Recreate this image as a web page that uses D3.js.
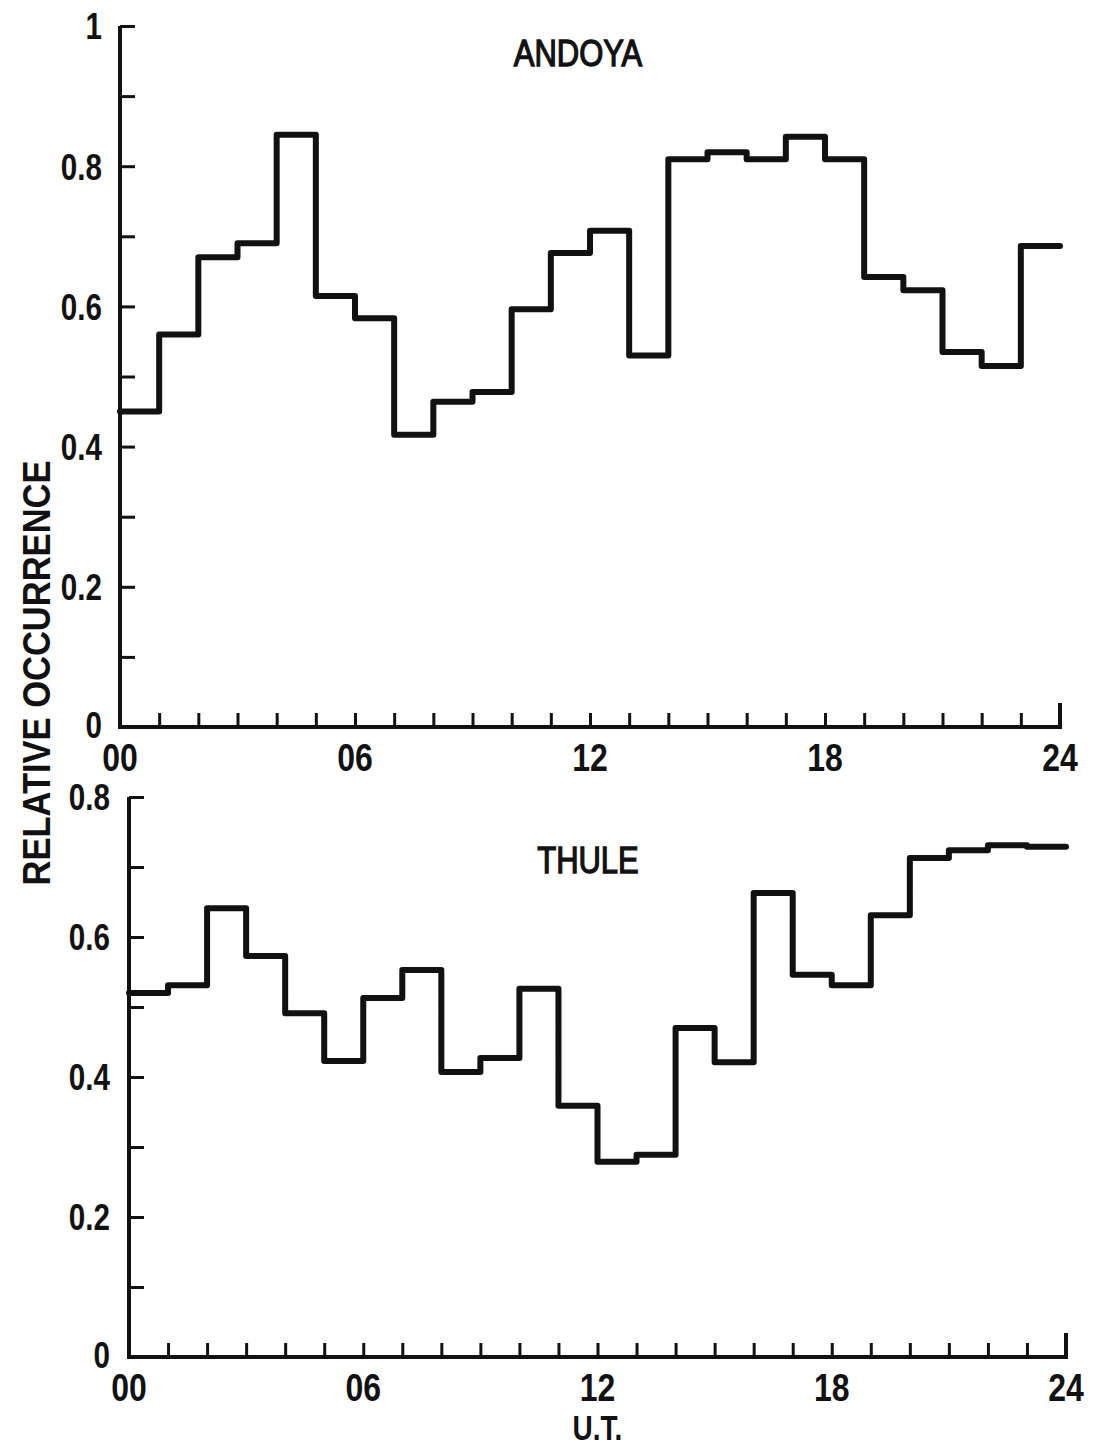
<!DOCTYPE html>
<html>
<head>
<meta charset="utf-8">
<script src="https://cdn.jsdelivr.net/npm/d3@7"></script>
<style>
  body { margin: 0; background: #fff; }
  text { font-family: "Liberation Sans", Arial, sans-serif; fill: #111; }
  .tick line { stroke: #111; stroke-width: 3; }
</style>
</head>
<body>
<div id="chart"></div>
<script>
'use strict';

// hourly relative occurrence, bins 00-01 ... 23-24 UT
const hours = d3.range(24);
const andoyaValues = [
  0.45, 0.56, 0.67, 0.69, 0.845, 0.615, 0.583, 0.417, 0.464, 0.478, 0.596, 0.676,
  0.708, 0.53, 0.81, 0.82, 0.81, 0.842, 0.81, 0.642, 0.623, 0.535, 0.515, 0.686];
const thuleValues = [
  0.52, 0.531, 0.641, 0.573, 0.491, 0.423, 0.513, 0.553, 0.407, 0.427, 0.526, 0.359,
  0.279, 0.289, 0.47, 0.421, 0.663, 0.546, 0.531, 0.631, 0.713, 0.724, 0.731, 0.729];
const xTickLabels = ['00', '06', '12', '18', '24'];
const xLabelHours = [0, 6, 12, 18, 24];
const andoyaYLabels = [0, 0.2, 0.4, 0.6, 0.8, 1];
const thuleYLabels = [0, 0.2, 0.4, 0.6, 0.8];

const svg = d3.select('#chart').append('svg')
  .attr('width', 1094)
  .attr('height', 1449);

function squeeze(sel, k) {
  sel.each(function() {
    const w = this.getComputedTextLength();
    d3.select(this).attr('textLength', w * k).attr('lengthAdjust', 'spacingAndGlyphs');
  });
}

function yFormat(v) {
  if (v === 0) return '0';
  if (v === 1) return '1';
  return v.toFixed(1);
}

function drawPanel(cfg) {
  const x = d3.scaleLinear().domain([0, 24]).range(cfg.xRange);
  const y = d3.scaleLinear().domain([0, cfg.yMax]).range(cfg.yRange);
  const g = svg.append('g');

  // inward ticks
  const yAxis = d3.axisRight(y)
    .tickValues(d3.range(1, Math.round(cfg.yMax * 10) + 1).map(d => d / 10))
    .tickSize(15)
    .tickSizeOuter(0)
    .tickFormat('');
  g.append('g')
    .attr('transform', 'translate(' + x(0) + ',0)')
    .call(yAxis)
    .select('.domain').remove();

  const xAxis = d3.axisTop(x)
    .tickValues(d3.range(1, 24))
    .tickSize(14)
    .tickSizeOuter(0)
    .tickFormat('');
  g.append('g')
    .attr('transform', 'translate(0,' + y(0) + ')')
    .call(xAxis)
    .select('.domain').remove();

  const frame = d3.path();
  frame.moveTo(x(0), y(cfg.yMax));
  frame.lineTo(x(0), y(0));
  frame.lineTo(x(24), y(0));
  frame.lineTo(x(24), y(0) - 24);
  g.append('path')
    .attr('d', frame.toString())
    .attr('fill', 'none')
    .attr('stroke', '#111')
    .attr('stroke-width', 4);

  // y labels
  g.selectAll('.ylab')
    .data(cfg.yLabels)
    .enter().append('text')
    .attr('class', 'ylab')
    .attr('x', x(0) - cfg.yLabelGap)
    .attr('y', d => y(d))
    .attr('dy', d => d === 0 ? '0.3em' : '0.36em')
    .attr('text-anchor', 'end')
    .style('font-size', '37px')
    .style('font-weight', 'bold')
    .text(yFormat)
    .call(squeeze, 0.8);

  // x labels
  g.selectAll('.xlab')
    .data(xLabelHours)
    .enter().append('text')
    .attr('class', 'xlab')
    .attr('x', d => x(d))
    .attr('y', y(0) + 44)
    .attr('text-anchor', 'middle')
    .style('font-size', '39px')
    .style('font-weight', 'bold')
    .text((d, i) => xTickLabels[i])
    .call(squeeze, 0.82);

  // station name
  g.append('text')
    .attr('x', cfg.titleX)
    .attr('y', cfg.titleY)
    .attr('text-anchor', 'middle')
    .style('font-size', '36px')
    .style('stroke', '#111')
    .style('stroke-width', 1.3)
    .text(cfg.name)
    .call(squeeze, 0.86);

  const points = hours.map(h => [h, cfg.values[h]]);
  points.push([24, cfg.values[23]]);

  const line = d3.line()
    .x(d => x(d[0]))
    .y(d => y(d[1]))
    .curve(d3.curveStepAfter);

  g.append('path')
    .datum(points)
    .attr('d', line)
    .attr('fill', 'none')
    .attr('stroke', '#111')
    .attr('stroke-width', 6)
    .attr('stroke-linejoin', 'round')
    .attr('stroke-linecap', 'round');

  return x;
}

drawPanel({
  name: 'ANDOYA', values: andoyaValues, yMax: 1, yLabels: andoyaYLabels,
  xRange: [120, 1060], yRange: [727, 26], yLabelGap: 18, titleX: 578, titleY: 66
});

const xBottom = drawPanel({
  name: 'THULE', values: thuleValues, yMax: 0.8, yLabels: thuleYLabels,
  xRange: [129, 1066], yRange: [1357, 797], yLabelGap: 19, titleX: 588, titleY: 873
});

svg.append('text')
  .attr('x', xBottom(12))
  .attr('y', 1440)
  .attr('text-anchor', 'middle')
  .style('font-size', '35px')
  .style('font-weight', 'bold')
  .text('U.T.')
  .call(squeeze, 0.8);

svg.append('text')
  .attr('transform', 'translate(50,673) rotate(-90)')
  .attr('text-anchor', 'middle')
  .style('font-size', '38px')
  .style('font-weight', 'bold')
  .text('RELATIVE OCCURRENCE')
  .attr('textLength', 425)
  .attr('lengthAdjust', 'spacingAndGlyphs');
</script>
</body>
</html>
